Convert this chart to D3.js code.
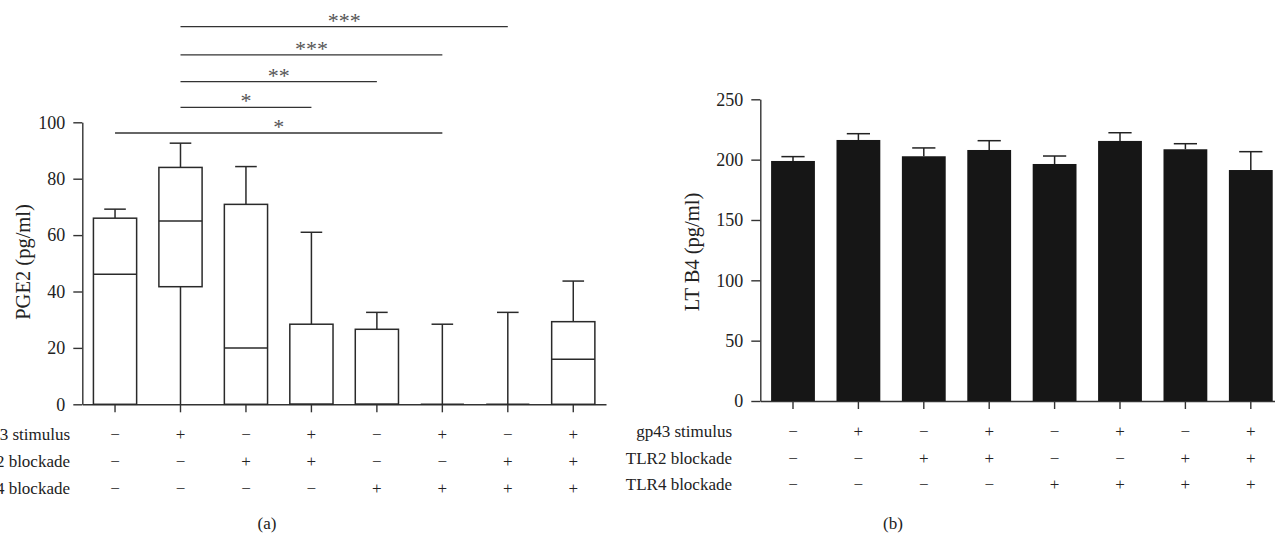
<!DOCTYPE html>
<html>
<head>
<meta charset="utf-8">
<script src="https://cdn.jsdelivr.net/npm/d3@7"></script>
<style>
  html, body { margin: 0; padding: 0; background: #fff; }
  svg { display: block; font-family: "Liberation Serif", "Times New Roman", serif; }
</style>
</head>
<body>
<svg id="chart" width="1275" height="538"></svg>
<script>
// ---------- data ----------
const groups = ["G1", "G2", "G3", "G4", "G5", "G6", "G7", "G8"];
const rowLabels = ["gp43 stimulus", "TLR2 blockade", "TLR4 blockade"];
const stimulusRow = ["−", "+", "−", "+", "−", "+", "−", "+"];
const tlr2Row     = ["−", "−", "+", "+", "−", "−", "+", "+"];
const tlr4Row     = ["−", "−", "−", "−", "+", "+", "+", "+"];

// Panel (a): PGE2 box plots
const pgeWhiskerLow  = [0, 0, 0, 0, 0, 0, 0, 0];
const pgeQ1          = [0, 41.7, 0, 0, 0, 0, 0, 0];
const pgeMedian      = [46.1, 65.0, 20.0, 0, 0, 0, 0, 16.0];
const pgeQ3          = [66.0, 84.0, 70.9, 28.4, 26.6, 0, 0, 29.3];
const pgeWhiskerHigh = [69.2, 92.6, 84.3, 61.0, 32.6, 28.4, 32.6, 43.7];
const pgeTicks = [0, 20, 40, 60, 80, 100];

// significance brackets: [from group, to group, label, level (pg/ml)]
const sigFrom   = [1, 1, 1, 1, 0];
const sigTo     = [6, 5, 4, 3, 5];
const sigLabel  = ["***", "***", "**", "*", "*"];
const sigLevel  = [133.9, 123.9, 114.4, 105.3, 96.2];

// Panel (b): LTB4 bars
const ltbMean = [198.9, 216.3, 202.8, 208.0, 196.4, 215.5, 208.6, 191.4];
const ltbErr  = [3.6, 5.2, 6.9, 7.7, 6.6, 6.8, 4.6, 15.2];
const ltbTicks = [0, 50, 100, 150, 200, 250];

// ---------- drawing ----------
const svg = d3.select("#chart");
const axisColor = "#333";
const rows = [stimulusRow, tlr2Row, tlr4Row];

function styleAxis(g) {
  g.selectAll("path.domain").attr("stroke", axisColor).attr("stroke-width", 1.4);
  g.selectAll(".tick line").attr("stroke", axisColor).attr("stroke-width", 1.4);
  g.selectAll(".tick text").attr("fill", "#222")
    .style("font-family", '"Liberation Serif", serif');
}

function panel(opts) {
  const x = d3.scaleBand().domain(groups).range(opts.xRange)
    .paddingInner(opts.padInner).paddingOuter(opts.padInner / 2);
  const y = d3.scaleLinear().domain(opts.yDomain).range(opts.yRange);

  const gy = svg.append("g").attr("transform", `translate(${opts.xRange[0]},0)`)
    .call(d3.axisLeft(y).tickValues(opts.ticks).tickSize(9).tickSizeOuter(0).tickPadding(8));
  gy.selectAll(".tick text").style("font-size", "18px");
  styleAxis(gy);

  svg.append("text")
    .attr("transform", `translate(${opts.titleX},${opts.titleY}) rotate(-90)`)
    .attr("text-anchor", "middle").attr("dy", "0.35em")
    .style("font-size", "20.5px").attr("fill", "#222")
    .text(opts.title);

  const gx = svg.append("g").attr("transform", `translate(0,${y(0)})`)
    .call(d3.axisBottom(x).tickFormat("").tickSize(8).tickSizeOuter(0));
  styleAxis(gx);

  // treatment rows
  rows.forEach((row, r) => {
    const by = opts.rowBaselines[r];
    svg.append("text").attr("x", opts.rowLabelX).attr("y", by)
      .attr("text-anchor", "end").style("font-size", "17px").attr("fill", "#222")
      .text(rowLabels[r]);
    svg.selectAll(null).data(row).enter().append("text")
      .attr("x", (d, i) => x(groups[i]) + x.bandwidth() / 2)
      .attr("y", by)
      .attr("text-anchor", "middle").style("font-size", "17px").attr("fill", "#222")
      .text(d => d);
  });

  svg.append("text").attr("x", opts.captionX).attr("y", 529)
    .attr("text-anchor", "middle").style("font-size", "17px").attr("fill", "#222")
    .text(opts.caption);
  return { x, y };
}

// ----- panel (a)
const A = panel({
  xRange: [82.3, 606], yDomain: [0, 100], yRange: [404.3, 122.3],
  padInner: 0.34, ticks: pgeTicks, title: "PGE2 (pg/ml)", titleX: 23, titleY: 262,
  rowLabelX: 70, rowBaselines: [440, 467, 494], captionX: 267, caption: "(a)"
});
const boxColor = "#2a2a2a";
const gb = svg.append("g");
groups.forEach((gname, i) => {
  const cx = A.x(gname) + A.x.bandwidth() / 2;
  const bw = A.x.bandwidth();
  const capW = bw / 2;
  // whisker high
  gb.append("line").attr("x1", cx).attr("x2", cx)
    .attr("y1", A.y(pgeQ3[i])).attr("y2", A.y(pgeWhiskerHigh[i]))
    .attr("stroke", boxColor).attr("stroke-width", 1.5);
  gb.append("line").attr("x1", cx - capW / 2).attr("x2", cx + capW / 2)
    .attr("y1", A.y(pgeWhiskerHigh[i])).attr("y2", A.y(pgeWhiskerHigh[i]))
    .attr("stroke", boxColor).attr("stroke-width", 1.5);
  // whisker low
  gb.append("line").attr("x1", cx).attr("x2", cx)
    .attr("y1", A.y(pgeQ1[i])).attr("y2", A.y(pgeWhiskerLow[i]))
    .attr("stroke", boxColor).attr("stroke-width", 1.5);
  // box
  gb.append("rect").attr("x", A.x(gname)).attr("width", bw)
    .attr("y", A.y(pgeQ3[i])).attr("height", A.y(pgeQ1[i]) - A.y(pgeQ3[i]))
    .attr("fill", "#fff").attr("stroke", boxColor).attr("stroke-width", 1.5);
  // median
  gb.append("line").attr("x1", A.x(gname)).attr("x2", A.x(gname) + bw)
    .attr("y1", A.y(pgeMedian[i])).attr("y2", A.y(pgeMedian[i]))
    .attr("stroke", boxColor).attr("stroke-width", 1.5);
});

// significance brackets
sigLabel.forEach((lab, k) => {
  const x1 = A.x(groups[sigFrom[k]]) + A.x.bandwidth() / 2;
  const x2 = A.x(groups[sigTo[k]]) + A.x.bandwidth() / 2;
  const yy = A.y(sigLevel[k]);
  svg.append("line").attr("x1", x1).attr("x2", x2).attr("y1", yy).attr("y2", yy)
    .attr("stroke", "#333").attr("stroke-width", 1.3);
  svg.append("text").attr("x", (x1 + x2) / 2).attr("y", yy + 1)
    .attr("text-anchor", "middle").style("font-size", "22px")
    .attr("fill", "#555").text(lab);
});

// ----- panel (b)
const B = panel({
  xRange: [760.3, 1283.5], yDomain: [0, 250], yRange: [401, 99.3],
  padInner: 0.33, ticks: ltbTicks, title: "LT B4 (pg/ml)", titleX: 692, titleY: 252,
  rowLabelX: 732, rowBaselines: [437, 463.5, 490], captionX: 893, caption: "(b)"
});
const gbar = svg.append("g");
groups.forEach((gname, i) => {
  const cx = B.x(gname) + B.x.bandwidth() / 2;
  const capW = B.x.bandwidth() * 0.53;
  gbar.append("line").attr("x1", cx).attr("x2", cx)
    .attr("y1", B.y(ltbMean[i])).attr("y2", B.y(ltbMean[i] + ltbErr[i]))
    .attr("stroke", "#222").attr("stroke-width", 1.5);
  gbar.append("line").attr("x1", cx - capW / 2).attr("x2", cx + capW / 2)
    .attr("y1", B.y(ltbMean[i] + ltbErr[i])).attr("y2", B.y(ltbMean[i] + ltbErr[i]))
    .attr("stroke", "#222").attr("stroke-width", 1.5);
});
gbar.selectAll("rect").data(ltbMean).enter().append("rect")
  .attr("x", (d, i) => B.x(groups[i]))
  .attr("width", B.x.bandwidth())
  .attr("y", d => B.y(d))
  .attr("height", d => B.y(0) - B.y(d))
  .attr("fill", "#161616");
</script>
</body>
</html>
